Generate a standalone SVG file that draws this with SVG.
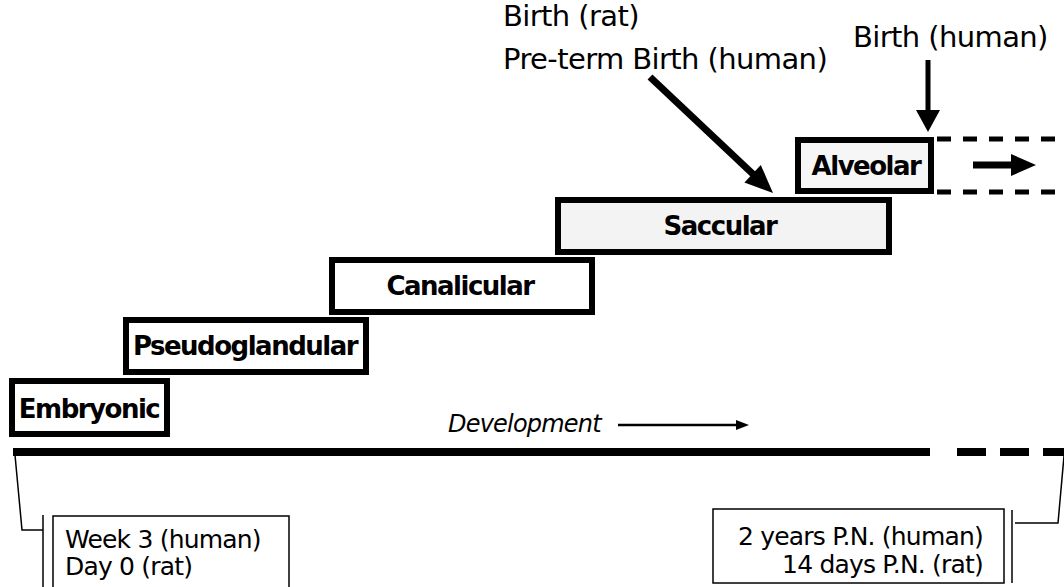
<svg xmlns="http://www.w3.org/2000/svg" width="1064" height="587" viewBox="0 0 1064 587">
<style>
.stage{fill:#fff;stroke:#000;stroke-width:6}
.stg{font-family:"DejaVu Sans",Verdana,sans-serif;font-weight:bold;font-size:26px;letter-spacing:-1.5px;fill:#000;text-anchor:middle}
.lbl{font-family:"DejaVu Sans",Verdana,sans-serif;font-size:29px;letter-spacing:-0.6px;fill:#000}
.sm{font-family:"DejaVu Sans",Verdana,sans-serif;font-size:25px;letter-spacing:-0.8px;fill:#000}
.thin{fill:none;stroke:#000;stroke-width:1.5}
.dash{stroke:#000;stroke-width:5;stroke-dasharray:14 12}
</style>
<rect width="1064" height="587" fill="#fff"/>
<g id="embryonic">
<rect class="stage" x="12" y="381" width="155" height="53"/>
<text class="stg" x="89" y="418">Embryonic</text>
</g>
<g id="pseudoglandular">
<rect class="stage" x="126" y="320" width="240" height="52"/>
<text class="stg" x="245" y="355">Pseudoglandular</text>
</g>
<g id="canalicular">
<rect class="stage" x="332" y="260" width="260" height="52"/>
<text class="stg" x="460" y="295">Canalicular</text>
</g>
<g id="saccular">
<rect class="stage" x="558" y="200" width="331" height="52" style="fill:#f3f3f3"/>
<text class="stg" x="720" y="235">Saccular</text>
</g>
<g id="alveolar">
<rect class="stage" x="798" y="140" width="133" height="51" style="fill:#f6f6f6"/>
<text class="stg" x="866" y="175">Alveolar</text>
<line class="dash" x1="937" y1="139" x2="1064" y2="139"/>
<line class="dash" x1="937" y1="192" x2="1064" y2="192"/>
</g>
<g id="birth-rat-label">
<text class="lbl" x="503" y="26">Birth (rat)</text>
<text class="lbl" x="503" y="69">Pre-term Birth (human)</text>
</g>
<g id="birth-human-label">
<text class="lbl" x="853" y="47">Birth (human)</text>
</g>
<g id="development-label">
<text class="sm" x="448" y="432" font-style="italic" style="font-size:24px">Development</text>
</g>
<g id="start-label">
<rect class="thin" x="53" y="516" width="236" height="90"/>
<text class="sm" x="65" y="548">Week 3 (human)</text>
<text class="sm" x="65" y="575">Day 0 (rat)</text>
</g>
<g id="end-label">
<rect class="thin" x="713" y="509" width="291" height="74"/>
<text class="sm" x="983" y="545" text-anchor="end">2 years P.N. (human)</text>
<text class="sm" x="983" y="573" text-anchor="end">14 days P.N. (rat)</text>
</g>
<g id="connectors">
<line x1="13" y1="452" x2="930" y2="452" stroke="#000" stroke-width="8"/>
<line x1="957" y1="452" x2="1064" y2="452" stroke="#000" stroke-width="8" stroke-dasharray="29 14"/>
<polyline class="thin" points="15,455 22,530 43,530"/>
<line class="thin" x1="43" y1="515" x2="43" y2="587"/>
<polyline class="thin" points="1015,523 1058,523 1064,456"/>
<line class="thin" x1="1012" y1="510" x2="1012" y2="583"/>
<line x1="650" y1="77" x2="755" y2="176" stroke="#000" stroke-width="7"/>
<polygon points="773,193 744.4,182.5 760.8,165.1" fill="#000"/>
<line x1="928" y1="60" x2="928" y2="112" stroke="#000" stroke-width="5"/>
<polygon points="916,110 940,110 928,132" fill="#000"/>
<line x1="973" y1="165" x2="1013" y2="165" stroke="#000" stroke-width="7"/>
<polygon points="1011,154 1011,176 1036,165" fill="#000"/>
<line x1="618" y1="425" x2="738" y2="425" stroke="#000" stroke-width="2.5"/>
<polygon points="736,420 736,430 749,425" fill="#000"/>
</g>
</svg>
